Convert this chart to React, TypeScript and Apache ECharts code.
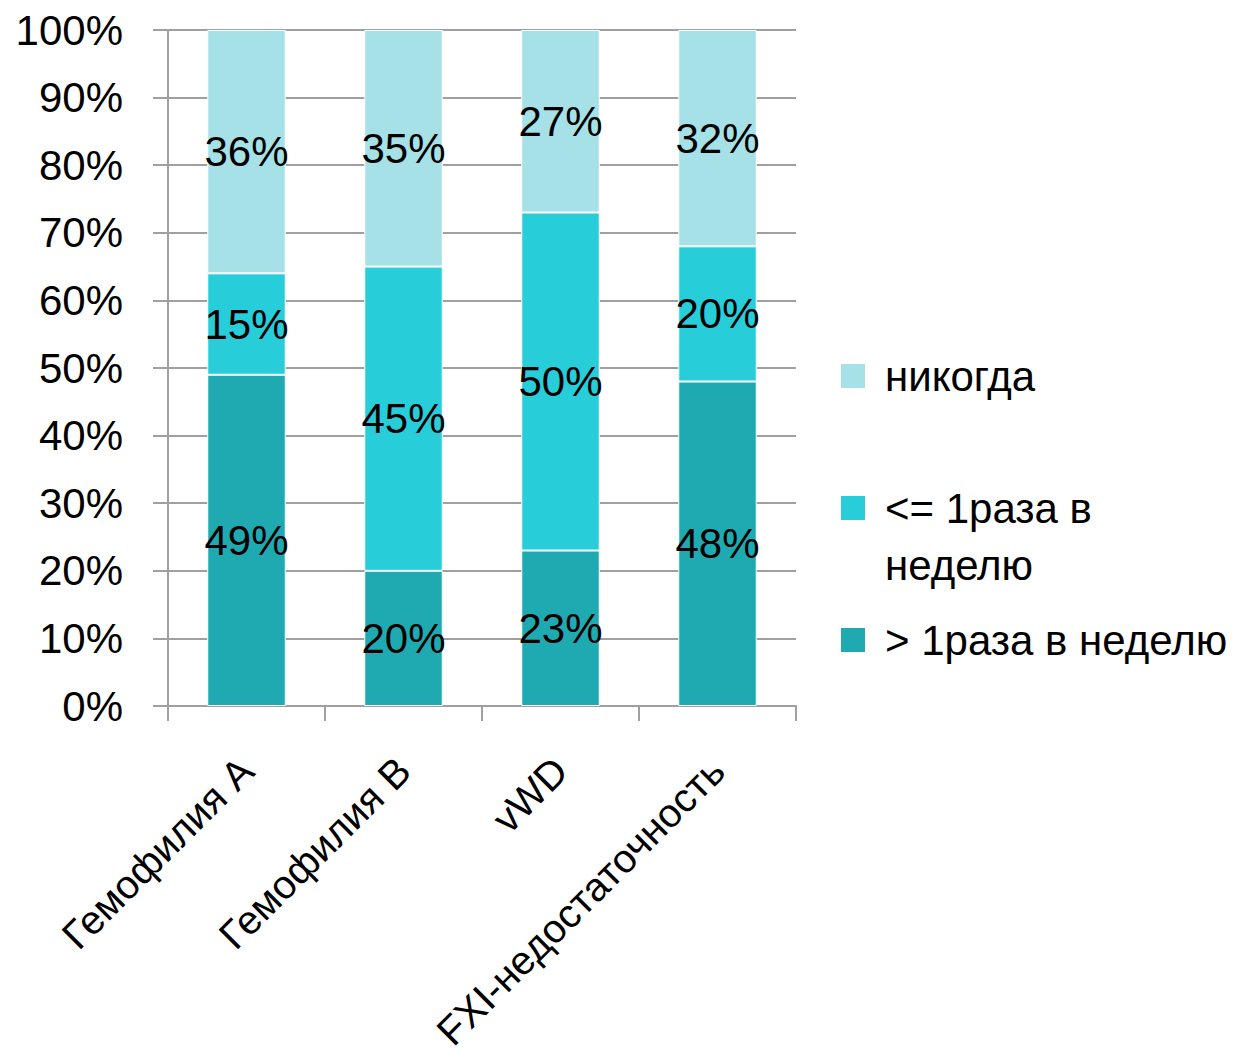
import React, { useEffect, useRef } from "react";
import * as echarts from "echarts";

// Categories and stacked shares (percent), bottom to top
const categories = ["Гемофилия А", "Гемофилия В", "vWD", "FXI-недостаточность"];
const moreThanOnce = [49, 20, 23, 48];
const onceOrLess = [15, 45, 50, 20];
const never = [36, 35, 27, 32];

const seriesNames = ["> 1раза в неделю", "<= 1раза в\nнеделю", "никогда"];
const seriesColors = ["#1FAAB1", "#27CDD8", "#A6E1E7"];

const FONT = "Liberation Sans";
const FS = 42;
const GRAY = "#A0A0A0";

export default function App() {
  const ref = useRef<HTMLDivElement>(null);

  useEffect(() => {
    document.body.style.margin = "0";
    if (!ref.current) return;
    const chart = echarts.init(ref.current, null, { renderer: "svg" });

    const values = [moreThanOnce, onceOrLess, never];

    // legend entries listed top to bottom: never, once or less, more than once
    const legendOrder = [2, 1, 0];
    const legendCenters = [376, 508, 640];
    const legendGraphics: any[] = [];
    legendOrder.forEach((si, i) => {
      const cy = legendCenters[i];
      legendGraphics.push({
        type: "rect",
        left: 841,
        top: cy - 12,
        shape: { width: 24, height: 24 },
        style: { fill: seriesColors[si] },
      });
      const multi = seriesNames[si].includes("\n");
      legendGraphics.push({
        type: "text",
        x: 885,
        y: multi ? cy - 28.5 : cy,
        style: {
          text: seriesNames[si],
          font: `${FS}px "${FONT}"`,
          fill: "#000",
          lineHeight: 57,
          verticalAlign: multi ? "top" : "middle",
          align: "left",
        },
      });
    });

    chart.setOption({
      animation: false,
      backgroundColor: "#fff",
      textStyle: { fontFamily: FONT },
      grid: {
        left: 168,
        right: 447,
        top: 30,
        bottom: 353,
        containLabel: false,
        outerBoundsMode: "none",
      },
      xAxis: {
        type: "category",
        data: categories,
        boundaryGap: true,
        axisLine: { show: true, lineStyle: { color: GRAY, width: 2 } },
        axisTick: { show: true, length: 15, alignWithLabel: false, lineStyle: { color: GRAY, width: 2 } },
        axisLabel: {
          rotate: 45,
          margin: 58,
          fontSize: 40,
          fontFamily: FONT,
          color: "#000",
          interval: 0,
        },
        splitLine: { show: false },
      },
      yAxis: {
        type: "value",
        min: 0,
        max: 100,
        interval: 10,
        axisLine: { show: true, lineStyle: { color: GRAY, width: 2 } },
        axisTick: { show: true, length: 15, lineStyle: { color: GRAY, width: 2 } },
        axisLabel: {
          formatter: "{value}%",
          margin: 45,
          fontSize: FS,
          fontFamily: FONT,
          color: "#000",
        },
        splitLine: { show: true, lineStyle: { color: GRAY, width: 2 } },
      },
      series: values.map((v, i) => ({
        name: seriesNames[i],
        type: "bar",
        stack: "total",
        data: v,
        barWidth: "50%",
        itemStyle: { color: seriesColors[i], borderColor: "#fff", borderWidth: 1 },
        label: {
          show: true,
          position: "inside",
          formatter: "{c}%",
          fontSize: FS,
          fontFamily: FONT,
          color: "#000",
          textBorderWidth: 0,
        },
      })),
      graphic: legendGraphics,
    });

    return () => chart.dispose();
  }, []);

  return <div ref={ref} style={{ width: 1243, height: 1059 }} />;
}
